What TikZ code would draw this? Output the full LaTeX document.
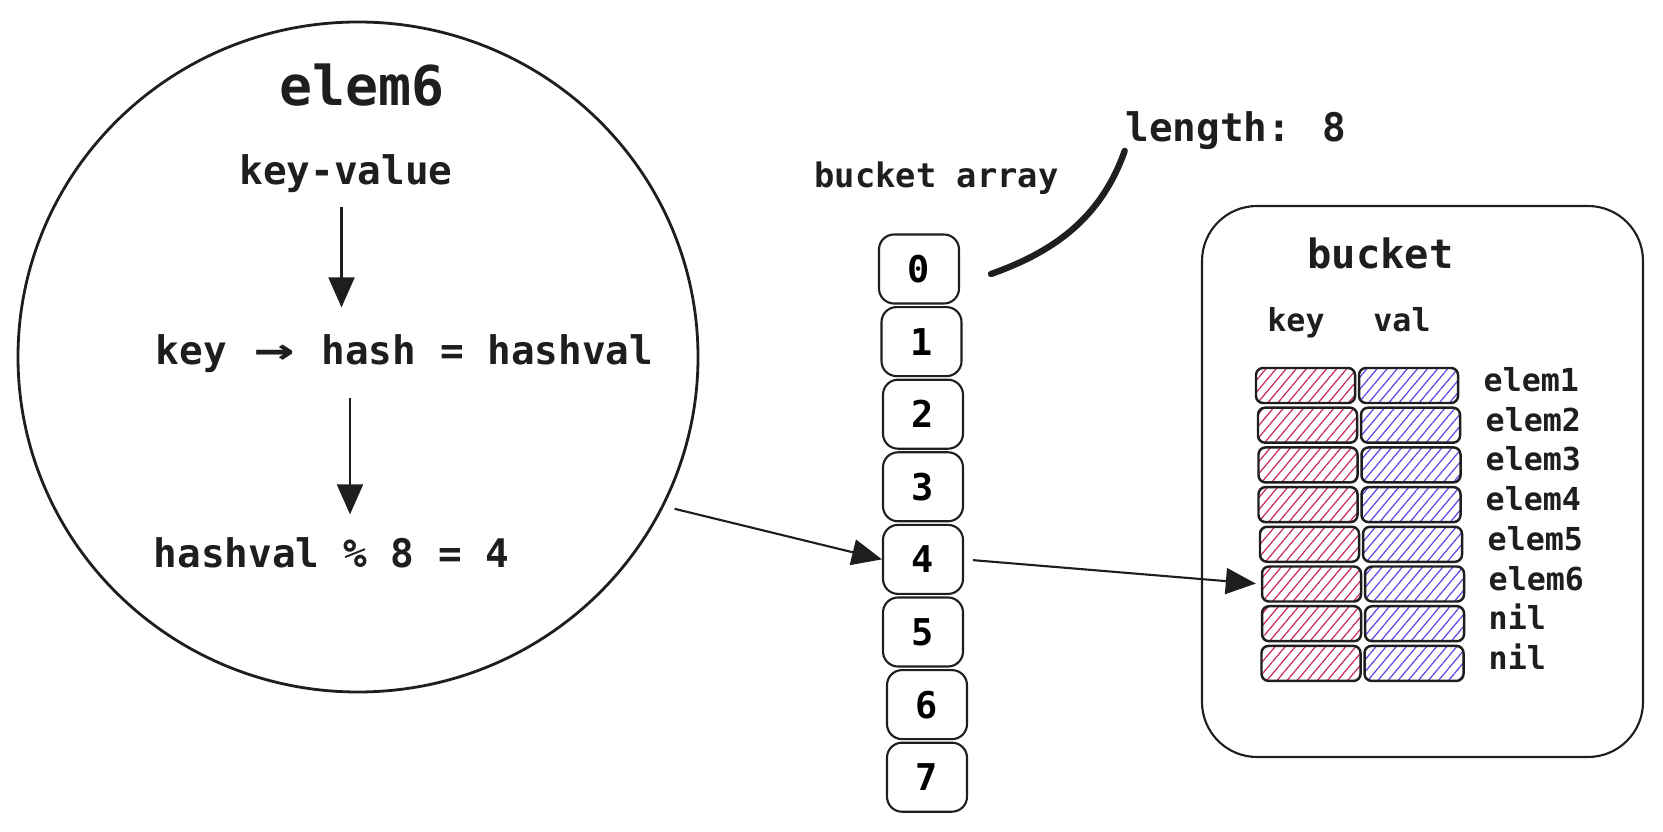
\documentclass[tikz,border=0pt]{standalone}
\usepackage{fontspec}
\usepackage{graphicx}
\setmainfont{DejaVu Sans Mono}
\usetikzlibrary{arrows.meta, patterns.meta, shapes.geometric, calc}
\definecolor{inkblack}{RGB}{30,30,30}
\definecolor{hatchred}{RGB}{201,42,90}
\definecolor{hatchblue}{RGB}{95,70,230}

\tikzset{
  txt/.style={inner sep=0pt, text=inkblack},
  arr/.style={draw=inkblack, line width=0.6pt, -{Triangle[length=0.3cm, width=0.26cm]}},
  slot/.style={draw=inkblack, line width=0.6pt, rounded corners=0.15cm, minimum width=0.8cm, minimum height=0.69cm, inner sep=0pt, font=\fontsize{10.5}{12}\selectfont\bfseries},
  keycell/.style={draw=inkblack, line width=0.7pt, rounded corners=0.07cm, minimum width=0.99cm, minimum height=0.35cm, inner sep=0pt, pattern={Lines[angle=50, distance=2.2pt, line width=0.35pt]}, pattern color=hatchred},
  valcell/.style={keycell, pattern color=hatchblue},
  elemlabel/.style={txt, anchor=base west, font=\fontsize{9}{11}\selectfont\bfseries}
}
% arrow ligature, two cells wide
\newcommand{\ligarrow}{\makebox[1.204em]{\scalebox{1.7}[1.1]{→}}}

\begin{document}
\begin{tikzpicture}
\useasboundingbox (0,0) rectangle (16.63,8.31);

% Element being inserted
\node[draw=inkblack, line width=0.8pt, ellipse, minimum width=6.8cm, minimum height=6.7cm, inner sep=0pt] (circ) at (3.58,4.74) {};
\node[txt, anchor=base, font=\fontsize{15.6}{18}\selectfont\bfseries] (ttl) at (3.62,7.25) {elem6};
\node[txt, anchor=base, font=\fontsize{11.2}{13}\selectfont\bfseries] (kv) at (3.46,6.46) {key-value};
\node[txt, anchor=base west, font=\fontsize{11.2}{13}\selectfont\bfseries] (hash) at (1.55,4.66) {key \ligarrow{} hash = hashval};
\node[txt, anchor=base west, font=\fontsize{11.2}{13}\selectfont\bfseries] (hv) at (1.53,2.64) {hashval \% 8 = 4};

% Steps
\draw[arr, shorten <=0.13cm, shorten >=0.27cm] ([xshift=-0.045cm]kv.south) -- ([xshift=-0.045cm]kv.south |- hash.north);
\draw[arr, shorten <=0.24cm, shorten >=0.22cm] ([xshift=1.95cm]hash.south west) -- ([xshift=1.95cm]hash.south west |- hv.north);

% Bucket array
\node[txt, anchor=base, font=\fontsize{9.6}{11}\selectfont\bfseries] (barr) at (9.365,6.43) {bucket array};
\node[txt, anchor=base, font=\fontsize{11.2}{13}\selectfont\bfseries] (len) at (12.36,6.89) {length: 8};

\node[slot] (b0) at (9.19,5.62) {0};
\node[slot] (b1) at (9.215,4.894) {1};
\node[slot] (b2) at (9.23,4.168) {2};
\node[slot] (b3) at (9.23,3.442) {3};
\node[slot] (b4) at (9.23,2.716) {4};
\node[slot] (b5) at (9.23,1.99) {5};
\node[slot] (b6) at (9.27,1.264) {6};
\node[slot] (b7) at (9.27,0.538) {7};

% Pen stroke to the length note
\draw[inkblack, line width=1.8pt, line cap=round] ([xshift=0.31cm, yshift=-0.05cm]b0.east) .. controls (10.5,5.78) and (11.0,6.1) .. (len.south west);

% Bucket
\draw[inkblack, line width=0.6pt, rounded corners=0.55cm] (12.02,0.74) rectangle (16.43,6.25);
\node[txt, anchor=base, font=\fontsize{11.5}{13}\selectfont\bfseries] (bkt) at (13.805,5.62) {bucket};
\node[txt, anchor=base, font=\fontsize{9}{11}\selectfont\bfseries] (khead) at (12.96,4.99) {key};
\node[txt, anchor=base, font=\fontsize{9}{11}\selectfont\bfseries] (vhead) at (14.02,4.99) {val};

% Row 1
\node[keycell] (k1) at (13.055,4.455) {};
\node[valcell] (v1) at (14.085,4.455) {};
\node[elemlabel] (e1) at (14.83,4.395) {elem1};
% Row 2
\node[keycell] (k2) at (13.075,4.058) {};
\node[valcell] (v2) at (14.105,4.058) {};
\node[elemlabel] (e2) at (14.85,3.998) {elem2};
% Row 3
\node[keycell] (k3) at (13.08,3.661) {};
\node[valcell] (v3) at (14.11,3.661) {};
\node[elemlabel] (e3) at (14.85,3.601) {elem3};
% Row 4
\node[keycell] (k4) at (13.08,3.264) {};
\node[valcell] (v4) at (14.11,3.264) {};
\node[elemlabel] (e4) at (14.85,3.204) {elem4};
% Row 5
\node[keycell] (k5) at (13.095,2.867) {};
\node[valcell] (v5) at (14.125,2.867) {};
\node[elemlabel] (e5) at (14.87,2.807) {elem5};
% Row 6
\node[keycell] (k6) at (13.115,2.47) {};
\node[valcell] (v6) at (14.145,2.47) {};
\node[elemlabel] (e6) at (14.88,2.41) {elem6};
% Row 7
\node[keycell] (k7) at (13.115,2.073) {};
\node[valcell] (v7) at (14.145,2.073) {};
\node[elemlabel] (e7) at (14.88,2.013) {nil};
% Row 8
\node[keycell] (k8) at (13.11,1.676) {};
\node[valcell] (v8) at (14.14,1.676) {};
\node[elemlabel] (e8) at (14.88,1.616) {nil};

% Connectors
\draw[arr, shorten <=0.11cm] (circ.-26) -- (b4.west);
\draw[arr, shorten <=0.09cm, shorten >=0.05cm] (b4.east) -- (k6.west);
\end{tikzpicture}
\end{document}
